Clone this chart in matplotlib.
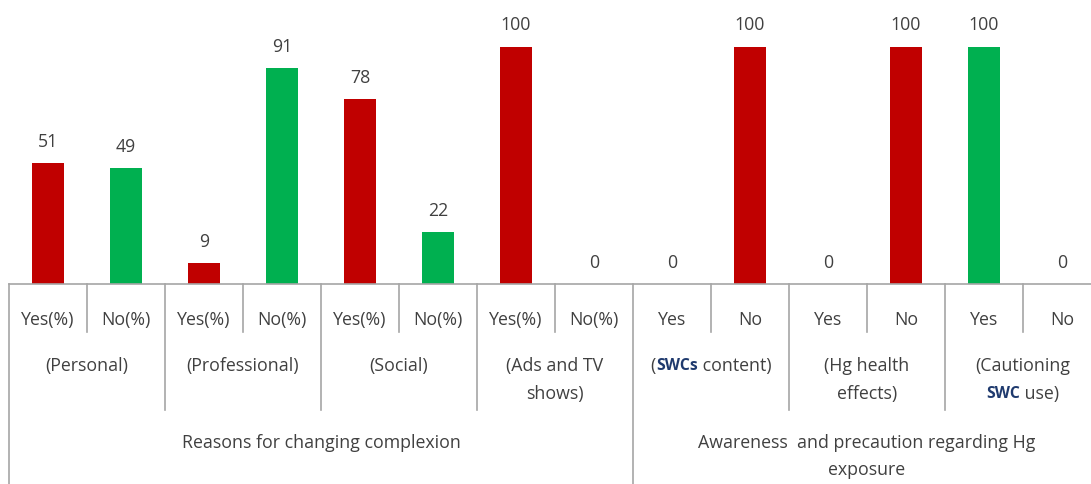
import matplotlib
matplotlib.use("Agg")
import matplotlib.pyplot as plt
from matplotlib.transforms import blended_transform_factory

# ---- data ----
sub_labels = ["Yes(%)", "No(%)", "Yes(%)", "No(%)", "Yes(%)", "No(%)", "Yes(%)", "No(%)",
              "Yes", "No", "Yes", "No", "Yes", "No"]
values = [51, 49, 9, 91, 78, 22, 100, 0, 0, 100, 0, 100, 100, 0]
bar_colors = ["#C00000", "#00B050", "#C00000", "#00B050", "#C00000", "#00B050", "#C00000", "#C00000",
              "#C00000", "#C00000", "#C00000", "#C00000", "#00B050", "#00B050"]
# group labels: list of lines, each line a list of (text, emphasised) segments
group_labels = [
    [[("(Personal)", False)]],
    [[("(Professional)", False)]],
    [[("(Social)", False)]],
    [[("(Ads and TV", False)], [("shows)", False)]],
    [[("(", False), ("SWCs", True), (" content)", False)]],
    [[("(Hg health", False)], [("effects)", False)]],
    [[("(Cautioning", False)], [("SWC", True), (" use)", False)]],
]
top_labels = ["Reasons for changing complexion",
              "Awareness  and precaution regarding Hg\nexposure"]
top_spans = [(0, 8), (8, 14)]

W, H = 1091, 485
fig = plt.figure(figsize=(W / 100, H / 100), dpi=100)
plt.rcParams['font.family'] = ['Open Sans', 'DejaVu Sans']

left_px, right_px, base_px = 9, 1101, 285
ax = fig.add_axes([left_px / W, (H - base_px) / H, (right_px - left_px) / W, base_px / H])
n = len(values)
x = list(range(n))
ax.bar(x, values, width=0.4, color=bar_colors, zorder=2)
ax.set_xlim(-0.5, n - 0.5)
ax.set_ylim(0, 120)
ax.axis("off")

txt_col = "#404040"
emph_col = "#1F3A6E"
line_col = "#A6A6A6"
fs = 12.8

for xi, v in zip(x, values):
    ax.annotate(f"{v}", (xi, v), xytext=(0, 13), textcoords="offset pixels",
                ha="center", va="bottom", fontsize=fs, color=txt_col)

tr = blended_transform_factory(ax.transData, fig.transFigure)

def fy(p):
    return 1 - p / H

# axis line
ax.plot([-0.5, n - 0.5], [fy(base_px)] * 2, transform=tr, color=line_col, lw=1.2, clip_on=False)

# dividers
for i in range(n + 1):
    xd = i - 0.5
    if i in (0, 8):
        bot = H
    elif i % 2 == 0:
        bot = 411
    else:
        bot = 333
    ax.plot([xd, xd], [fy(base_px), fy(bot)], transform=tr, color=line_col, lw=1.2, clip_on=False)

# level-1 labels
for xi, lab in zip(x, sub_labels):
    ax.text(xi, fy(320), lab, transform=tr, ha="center", va="center", fontsize=fs, color=txt_col)

# group labels (segment-wise so that the emphasised words can be styled)
renderer = fig.canvas.get_renderer()
line_h = 28
for g, lines in enumerate(group_labels):
    xc_px = ax.transData.transform((2 * g + 0.5, 0))[0]
    for li, segs in enumerate(lines):
        ypx = 366 + li * line_h
        texts = []
        for s, emph in segs:
            t = fig.text(0, fy(ypx), s, ha="left", va="center_baseline" if False else "center",
                         fontsize=fs - 1.5 if emph else fs,
                         fontweight="bold" if emph else "normal",
                         color=emph_col if emph else txt_col)
            texts.append(t)
        widths = [t.get_window_extent(renderer).width for t in texts]
        total = sum(widths)
        xpos = xc_px - total / 2
        for t, w in zip(texts, widths):
            t.set_x(xpos / W)
            xpos += w

# top labels
for (a, b), lab in zip(top_spans, top_labels):
    ax.text((a + b - 1) / 2, fy(434), lab, transform=tr, ha="center", va="top", fontsize=fs,
            color=txt_col, linespacing=1.65)

fig.savefig("out.png", dpi=100)
